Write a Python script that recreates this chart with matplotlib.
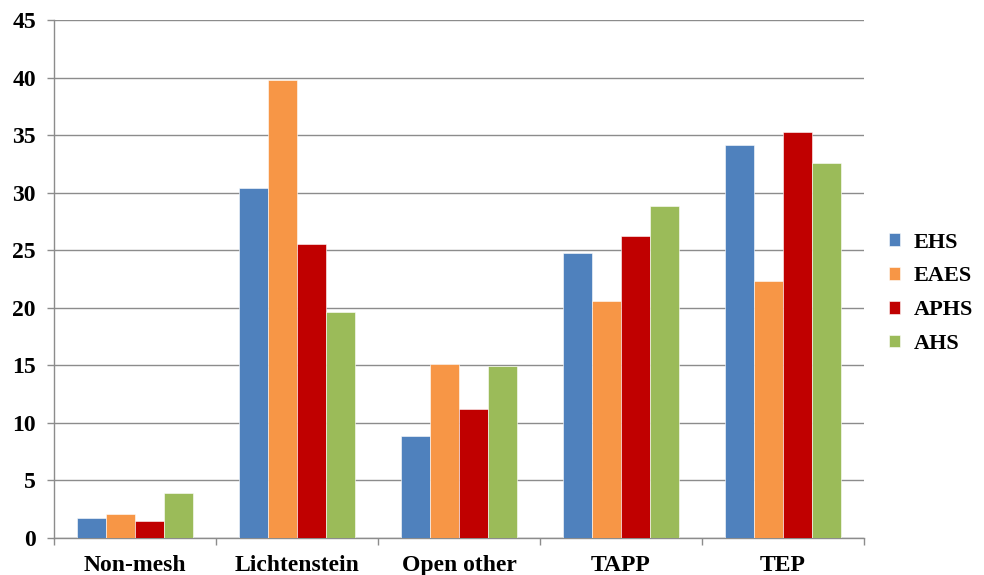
import matplotlib
matplotlib.use("Agg")
import matplotlib.pyplot as plt
import numpy as np

categories = ["Non-mesh", "Lichtenstein", "Open other", "TAPP", "TEP"]
series_names = ["EHS", "EAES", "APHS", "AHS"]
EHS = [1.7, 30.4, 8.9, 24.8, 34.1]
EAES = [2.1, 39.8, 15.1, 20.6, 22.3]
APHS = [1.5, 25.5, 11.2, 26.2, 35.3]
AHS = [3.9, 19.6, 14.9, 28.8, 32.6]
yticks = [0, 5, 10, 15, 20, 25, 30, 35, 40, 45]

colors = ["#4F81BD", "#F79646", "#C00000", "#9BBB59"]

plt.rcParams['font.family'] = ['Liberation Serif', 'DejaVu Serif']
plt.rcParams['font.weight'] = 'bold'

fig = plt.figure(figsize=(9.84, 5.75), dpi=100)
ax = fig.add_axes([54/984, 1-538/575, (864-54)/984, (538-20)/575])

x = np.arange(len(categories))
w = 0.18
data = [EHS, EAES, APHS, AHS]
for i, (name, vals) in enumerate(zip(series_names, data)):
    ax.bar(x + (i - 1.5) * w, vals, width=w, color=colors[i], label=name,
           edgecolor='white', linewidth=0.4, zorder=3)

ax.set_xlim(-0.5, len(categories) - 0.5)
ax.set_ylim(0, 45)
ax.set_yticks(yticks)
ax.yaxis.grid(True, color='#8c8c8c', linewidth=1.0, zorder=0)
ax.set_axisbelow(True)

ax.set_xticks(x)
ax.set_xticklabels(categories, fontsize=17, fontweight='bold')
ax.set_xticks(np.arange(-0.5, len(categories)), minor=True)
ax.tick_params(axis='x', which='major', length=0, pad=12)
ax.tick_params(axis='x', which='minor', length=5, color='#8c8c8c', width=1)
ax.tick_params(axis='y', length=5, color='#8c8c8c', width=1, labelsize=17, pad=8)
for lbl in ax.get_yticklabels():
    lbl.set_fontweight('bold')

for s in ['top', 'right']:
    ax.spines[s].set_visible(False)
for s in ['left', 'bottom']:
    ax.spines[s].set_color('#8c8c8c')
    ax.spines[s].set_linewidth(1)

leg = fig.legend(loc='center left', bbox_to_anchor=(0.883, 0.49), frameon=False,
                 prop={'family': 'Liberation Serif', 'weight': 'bold', 'size': 16},
                 handlelength=0.5, handleheight=0.5, handletextpad=0.6,
                 labelspacing=0.62)

fig.savefig("out.png", dpi=100)
